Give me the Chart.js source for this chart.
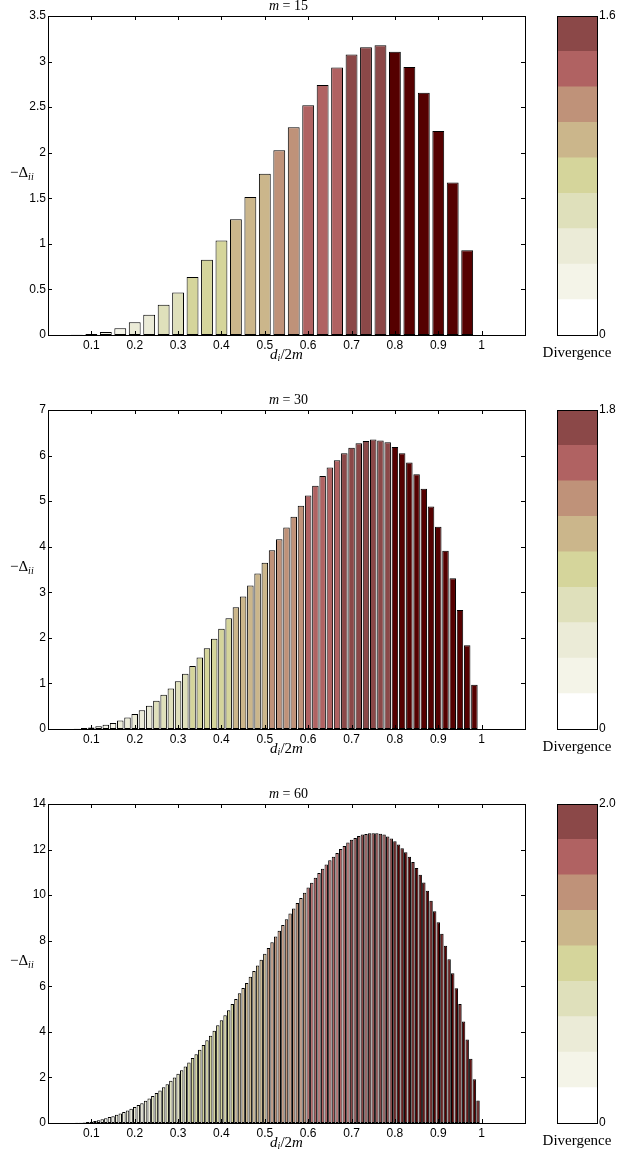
<!DOCTYPE html>
<html>
<head>
<meta charset="utf-8">
<script src="https://cdn.jsdelivr.net/npm/chart.js@4.4.0/dist/chart.umd.min.js"></script>
<style>
  html, body { margin: 0; padding: 0; background: #fff; overflow: hidden; }
  #page { position: relative; width: 619px; height: 1153px; }
  canvas { position: absolute; }
</style>
</head>
<body>
<div id="page"></div>
<script>
// one panel per m, bar i sits at d_i/2m = i/(2m), i = 1 .. 2m-1
const mValues = [15, 30, 60];

// -Delta_ii
const deltaM15 = [0.0005, 0.003, 0.011, 0.033, 0.073, 0.139, 0.223, 0.332, 0.467, 0.635,
  0.825, 1.036, 1.27, 1.515, 1.77, 2.026, 2.28, 2.52, 2.743, 2.934,
  3.077, 3.158, 3.18, 3.107, 2.941, 2.658, 2.237, 1.672, 0.93];

const deltaM30 = [0, 0.0005, 0.002, 0.008, 0.02, 0.035, 0.06, 0.095, 0.13, 0.185,
  0.25, 0.33, 0.41, 0.51, 0.62, 0.75, 0.89, 1.05, 1.21, 1.385,
  1.57, 1.77, 1.98, 2.20, 2.43, 2.67, 2.91, 3.15, 3.41, 3.65,
  3.92, 4.165, 4.42, 4.66, 4.90, 5.125, 5.34, 5.55, 5.74, 5.90,
  6.05, 6.17, 6.27, 6.32, 6.355, 6.33, 6.29, 6.19, 6.05, 5.85,
  5.59, 5.27, 4.88, 4.44, 3.91, 3.31, 2.61, 1.84, 0.97];

const deltaM60 = [0, 0, 0.0005, 0.001, 0.0015, 0.002, 0.004, 0.008, 0.015, 0.025,
  0.04, 0.06, 0.09, 0.12, 0.17, 0.21, 0.26, 0.30, 0.36, 0.42,
  0.48, 0.55, 0.63, 0.70, 0.79, 0.87, 0.98, 1.08, 1.18, 1.32,
  1.43, 1.57, 1.70, 1.85, 2.0, 2.16, 2.32, 2.48, 2.66, 2.85,
  3.02, 3.21, 3.42, 3.63, 3.83, 4.05, 4.29, 4.51, 4.73, 4.95,
  5.22, 5.44, 5.69, 5.92, 6.14, 6.42, 6.67, 6.91, 7.16, 7.43,
  7.68, 7.93, 8.19, 8.44, 8.69, 8.94, 9.19, 9.41, 9.65, 9.88,
  10.10, 10.34, 10.54, 10.76, 10.97, 11.16, 11.34, 11.53, 11.69, 11.85,
  12.02, 12.16, 12.31, 12.43, 12.51, 12.60, 12.66, 12.68, 12.72, 12.72,
  12.72, 12.69, 12.66, 12.57, 12.49, 12.37, 12.22, 12.06, 11.88, 11.69,
  11.46, 11.19, 10.90, 10.56, 10.19, 9.75, 9.29, 8.81, 8.31, 7.78,
  7.19, 6.57, 5.91, 5.22, 4.45, 3.66, 2.82, 1.92, 0.99];

// first bar index i that falls in divergence band 1..9 (band 0 = below)
const bandStartM15 = [4, 6, 8, 10, 13, 16, 18, 21, 24];
const bandStartM30 = [7, 10, 15, 20, 26, 31, 36, 41, 48];
const bandStartM60 = [13, 19, 29, 39, 52, 61, 72, 84, 96];

const xTicks = [0.1, 0.2, 0.3, 0.4, 0.5, 0.6, 0.7, 0.8, 0.9, 1.0];
const xTickLabels = ['0.1', '0.2', '0.3', '0.4', '0.5', '0.6', '0.7', '0.8', '0.9', '1'];

const yTicksM15 = [0, 0.5, 1, 1.5, 2, 2.5, 3, 3.5];
const yTicksM30 = [0, 1, 2, 3, 4, 5, 6, 7];
const yTicksM60 = [0, 2, 4, 6, 8, 10, 12, 14];

const divergenceTicks = [[0, 1.6], [0, 1.8], [0, 2.0]];
const divergenceLabels = [['0', '1.6'], ['0', '1.8'], ['0', '2.0']];

const bandColors = ['#ffffff', '#f4f4e8', '#ebebd7', '#dfe0bb', '#d5d59b',
  '#cbb68b', '#bf9279', '#b06262', '#8b4848', '#550000'];

const panels = [
  { m: mValues[0], delta: deltaM15, bands: bandStartM15, yTicks: yTicksM15, cb: 0, top: 0, edge: 1, bar: 0.82 },
  { m: mValues[1], delta: deltaM30, bands: bandStartM30, yTicks: yTicksM30, cb: 1, top: 394, edge: 1, bar: 0.9 },
  { m: mValues[2], delta: deltaM60, bands: bandStartM60, yTicks: yTicksM60, cb: 2, top: 788, edge: 1, bar: 0.95 },
];

const tickFont = { family: "'Liberation Sans', Arial, sans-serif", size: 12 };
const serif = "'Liberation Serif', 'Times New Roman', serif";

function drawParts(ctx, parts, x, y, align) {
  let w = 0;
  parts.forEach(p => { ctx.font = p.font; w += ctx.measureText(p.text).width; });
  let cx = align === 'center' ? x - w / 2 : x;
  ctx.fillStyle = '#000';
  ctx.textAlign = 'left';
  ctx.textBaseline = 'alphabetic';
  parts.forEach(p => {
    ctx.font = p.font;
    ctx.fillText(p.text, cx, y + (p.dy || 0));
    cx += ctx.measureText(p.text).width;
  });
}

// box with inward ticks on all four sides, plus the math labels
const framePlugin = {
  id: 'frame',
  afterDatasetsDraw(chart) {
    const { ctx, chartArea: a, scales } = chart;
    ctx.save();
    ctx.strokeStyle = '#000';
    ctx.lineWidth = 1;
    ctx.strokeRect(Math.round(a.left) + 0.5, Math.round(a.top) + 0.5,
      Math.round(a.right - a.left), Math.round(a.bottom - a.top));
    if (chart.config.options.plugins.frame.ticks) {
      ctx.beginPath();
      scales.x.ticks.forEach(t => {
        const px = Math.round(scales.x.getPixelForValue(t.value)) + 0.5;
        ctx.moveTo(px, a.bottom); ctx.lineTo(px, a.bottom - 4);
        ctx.moveTo(px, a.top); ctx.lineTo(px, a.top + 4);
      });
      scales.y.ticks.forEach(t => {
        const py = Math.round(scales.y.getPixelForValue(t.value)) + 0.5;
        ctx.moveTo(a.left, py); ctx.lineTo(a.left + 4, py);
        ctx.moveTo(a.right, py); ctx.lineTo(a.right - 4, py);
      });
      ctx.stroke();
    }
    ctx.restore();
  },
  afterDraw(chart) {
    const o = chart.config.options.plugins.frame;
    const { ctx, chartArea: a } = chart;
    const mid = (a.left + a.right) / 2;
    ctx.save();
    if (o.caption) {
      drawParts(ctx, [{ text: o.caption, font: '15px ' + serif }], mid, a.bottom + 22, 'center');
    }
    if (o.m) {
      drawParts(ctx, [
        { text: 'm', font: 'italic 14px ' + serif },
        { text: ' = ' + o.m, font: '14px ' + serif },
      ], mid + 2, a.top - 6, 'center');
      drawParts(ctx, [
        { text: 'd', font: 'italic 15px ' + serif },
        { text: 'i', font: 'italic 10px ' + serif, dy: 2 },
        { text: '/2', font: '15px ' + serif },
        { text: 'm', font: 'italic 15px ' + serif },
      ], mid, a.bottom + 24, 'center');
      drawParts(ctx, [
        { text: '\u2212\u0394', font: '15px ' + serif },
        { text: 'ii', font: 'italic 10px ' + serif, dy: 3 },
      ], 10, a.top + 161, 'left');
    }
    ctx.restore();
  }
};

const page = document.getElementById('page');

function makeCanvas(left, top, w, h) {
  const c = document.createElement('canvas');
  c.width = w; c.height = h;
  c.style.left = left + 'px'; c.style.top = top + 'px';
  c.style.width = w + 'px'; c.style.height = h + 'px';
  page.appendChild(c);
  return c;
}

panels.forEach(p => {
  const points = p.delta.map((v, i) => ({ x: (i + 1) / (2 * p.m), y: v }));
  const colors = p.delta.map((v, i) => bandColors[p.bands.filter(s => i + 1 >= s).length]);
  const yTicks = p.yTicks;

  new Chart(makeCanvas(0, p.top, 540, 365), {
    type: 'bar',
    data: {
      datasets: [{
        data: points,
        backgroundColor: colors,
        borderColor: '#000',
        borderWidth: p.edge,
        borderSkipped: false,
        barPercentage: p.bar,
        categoryPercentage: 1,
      }]
    },
    options: {
      responsive: false,
      animation: false,
      layout: { padding: { left: 0, right: 15, top: 16, bottom: 0 } },
      plugins: {
        legend: { display: false },
        tooltip: { enabled: false },
        frame: { m: p.m, ticks: true },
      },
      scales: {
        x: {
          type: 'linear', min: 0, max: 1.1, offset: false,
          afterBuildTicks: s => { s.ticks = xTicks.map(v => ({ value: v })); },
          afterFit: s => { s.height = 30; },
          ticks: { callback: (v, i) => xTickLabels[i], font: tickFont, color: '#000', padding: 3, maxRotation: 0, autoSkip: false },
          grid: { display: false, drawTicks: false },
          border: { display: false },
        },
        y: {
          min: 0, max: yTicks[yTicks.length - 1],
          afterBuildTicks: s => { s.ticks = yTicks.map(v => ({ value: v })); },
          afterFit: s => { s.width = 48; },
          ticks: { callback: (v, i) => String(yTicks[i]), font: tickFont, color: '#000', padding: 2 },
          grid: { display: false, drawTicks: false },
          border: { display: false },
        }
      }
    },
    plugins: [framePlugin]
  });

  const dMax = divergenceTicks[p.cb][1];
  new Chart(makeCanvas(535, p.top, 84, 365), {
    type: 'bar',
    data: {
      labels: [''],
      datasets: bandColors.slice(0, 9).map(c => ({
        data: [dMax / 9], backgroundColor: c, borderWidth: 0,
        barPercentage: 1, categoryPercentage: 1,
      }))
    },
    options: {
      responsive: false,
      animation: false,
      layout: { padding: { left: 22, right: 0, top: 16, bottom: 0 } },
      plugins: {
        legend: { display: false },
        tooltip: { enabled: false },
        frame: { ticks: false, caption: 'Divergence' },
      },
      scales: {
        x: {
          stacked: true,
          afterFit: s => { s.height = 30; },
          ticks: { display: false },
          grid: { display: false, drawTicks: false },
          border: { display: false },
        },
        y: {
          stacked: true, position: 'right', min: 0, max: dMax,
          afterBuildTicks: s => { s.ticks = divergenceTicks[p.cb].map(v => ({ value: v })); },
          afterFit: s => { s.width = 22; },
          ticks: { callback: (v, i) => divergenceLabels[p.cb][i], font: tickFont, color: '#000', padding: 2 },
          grid: { display: false, drawTicks: false },
          border: { display: false },
        }
      }
    },
    plugins: [framePlugin]
  });
});
</script>
</body>
</html>
